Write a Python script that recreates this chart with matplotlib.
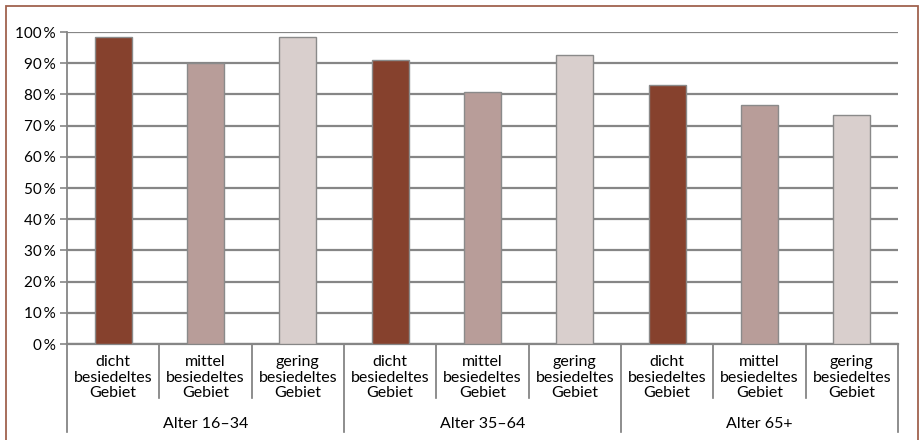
import matplotlib
matplotlib.use("Agg")
import matplotlib.pyplot as plt
from matplotlib.patches import Rectangle
from matplotlib.ticker import FuncFormatter
import numpy as np

plt.rcParams['font.family'] = ['Lato', 'DejaVu Sans']

groups = ["Alter 16–34", "Alter 35–64", "Alter 65+"]
areas = ["dicht\nbesiedeltes\nGebiet", "mittel\nbesiedeltes\nGebiet", "gering\nbesiedeltes\nGebiet"]
values = [
    [98.3, 90.0, 98.3],
    [91.0, 80.8, 92.6],
    [83.0, 76.5, 73.3],
]
colors = ["#86412D", "#B89D99", "#D9CFCD"]
yticks = list(range(0, 101, 10))

W, H = 920, 440
fig = plt.figure(figsize=(W / 100, H / 100), dpi=100)
ax = fig.add_axes([67 / W, (H - 344) / H, (898 - 67) / W, 312 / H])

n_areas = len(areas)
x = np.arange(len(groups) * n_areas)
vals = [v for g in values for v in g]
cols = [colors[i % n_areas] for i in range(len(vals))]
ax.bar(x, vals, width=0.4, color=cols, edgecolor="#8a8a8a", linewidth=1.0, zorder=3)

ax.set_xlim(-0.5, len(x) - 0.5)
ax.set_ylim(0, 100)
ax.set_yticks(yticks)
ax.yaxis.set_major_formatter(FuncFormatter(lambda v, p: f"{int(v)}\u2009%"))
ax.tick_params(axis="y", length=5, width=1.2, color="#868686", labelsize=11, pad=3)
ax.set_xticks([])
ax.grid(axis="y", color="#868686", linewidth=1.6, zorder=0)
for s in ["top", "right"]:
    ax.spines[s].set_visible(False)
ax.spines["left"].set_color("#868686")
ax.spines["left"].set_linewidth(1.3)
ax.spines["bottom"].set_color("#868686")
ax.spines["bottom"].set_linewidth(1.6)

trans = ax.get_xaxis_transform()
# category separators and labels
for i in range(len(x) + 1):
    xpos = i - 0.5
    y_end = -0.282 if i % n_areas == 0 else -0.173
    ax.plot([xpos, xpos], [0, y_end], transform=trans, color="#7a7a7a",
            linewidth=1.2, clip_on=False)
for i in range(len(x)):
    ax.text(i, -0.108, areas[i % n_areas], transform=trans, ha="center",
            va="center", fontsize=11.5, linespacing=1.15)
for g, name in enumerate(groups):
    ax.text(g * n_areas + 1, -0.256, name, transform=trans, ha="center",
            va="center", fontsize=11.5)

# outer frame
fig.patches.append(Rectangle((6 / W, -0.05), (918 - 6) / W, (H - 6) / H + 0.05,
                             transform=fig.transFigure, fill=False,
                             edgecolor="#A0624E", linewidth=1.3))

fig.savefig("out.png", dpi=100)
